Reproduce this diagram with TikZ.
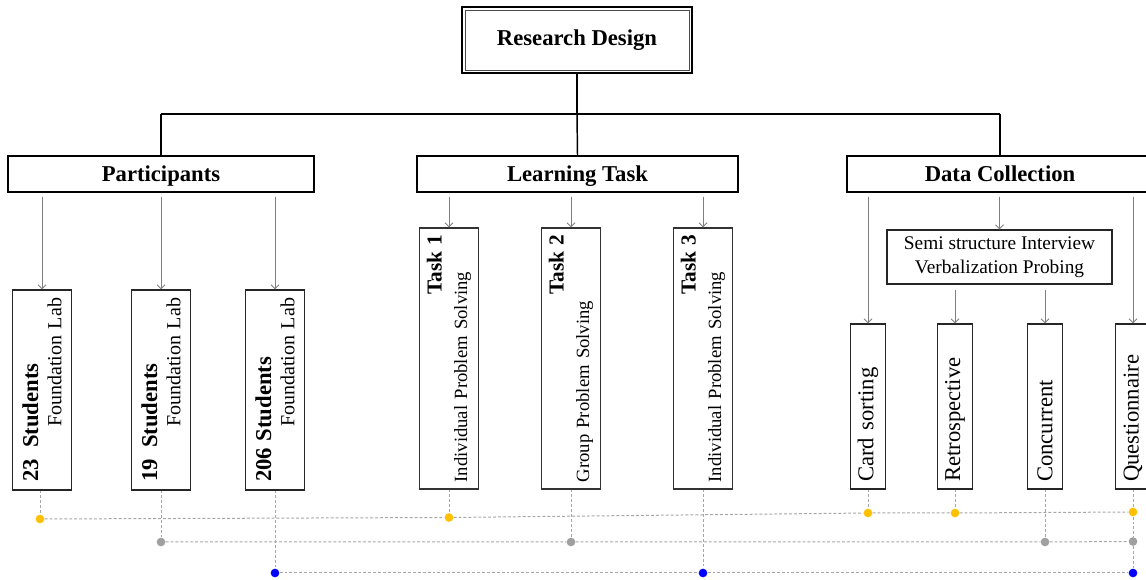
\documentclass[tikz,border=0pt]{standalone}
\usepackage{fontspec}
\setmainfont{Liberation Serif}
\usetikzlibrary{arrows.meta,calc}
\definecolor{dotyellow}{HTML}{FFC000}
\definecolor{dotgray}{HTML}{A0A0A0}
\definecolor{dotblue}{HTML}{0000FF}
\definecolor{linegray}{HTML}{A6A6A6}
\definecolor{arrgray}{HTML}{7F7F7F}
\begin{document}
\begin{tikzpicture}[x=0.75pt,y=-0.75pt,
  header/.style={draw=black, line width=1.1pt, minimum width=229.5pt, minimum height=27pt, inner sep=0pt, text height=14pt, text depth=2pt, font=\fontsize{17}{20}\selectfont\bfseries},
  rdbox/.style={draw=black, line width=2.2pt, minimum width=172.5pt, minimum height=49.5pt, inner sep=0pt, text height=12.5pt, text depth=3.5pt, font=\fontsize{17}{20}\selectfont\bfseries},
  stubox/.style={draw=black!85, line width=0.8pt, rotate=90, minimum width=150pt, minimum height=44.25pt, inner xsep=6pt, inner ysep=0pt, text width=138pt, align=left, font=\fontsize{15}{17.5}\selectfont},
  taskbox/.style={draw=black!80, line width=0.8pt, rotate=90, minimum width=195.75pt, minimum height=44.25pt, inner xsep=5pt, inner ysep=0pt, text width=185.75pt, align=left, font=\fontsize{14}{19}\selectfont},
  methbox/.style={draw=black!85, line width=0.8pt, rotate=90, minimum width=123.75pt, minimum height=26.25pt, inner xsep=5.25pt, inner ysep=0pt, text width=113.25pt, align=left, font=\fontsize{17}{20}\selectfont},
  semibox/.style={draw=black!85, line width=0.8pt, minimum width=168.75pt, minimum height=40.5pt, inner sep=0pt, align=center, font=\fontsize{14.5}{18}\selectfont},
  arr/.style={draw=arrgray, line width=0.75pt, -{Straight Barb[length=3pt,width=6pt]}},
  tree/.style={draw=black, line width=1.1pt},
  link/.style={draw=linegray, line width=0.75pt, dash pattern=on 2.2pt off 1.5pt},
  dot/.style={circle, inner sep=0pt, minimum size=6.5pt},
]
\useasboundingbox (0,0) rectangle (1146,580);
\clip (0,0) rectangle (1146,580);

% top node
\node[rdbox] (rd) at (577,40) {Research Design};
\draw[line width=0.6pt, black!70] ([xshift=3.3pt,yshift=-3.3pt]rd.north west) rectangle ([xshift=-3.3pt,yshift=3.3pt]rd.south east);

% headers
\node[header] (part) at (161,174) {Participants};
\node[header, minimum width=240.75pt] (lt) at (577.5,174) {Learning Task};
\node[header] (dc) at (1000,174) {Data Collection};

% tree
\coordinate (hub) at (577,114);
\draw[tree] (rd.south) -- (hub);
\draw[tree] (part.north |- hub) -- (dc.north |- hub);
\draw[tree] (part.north |- hub) -- (part.north);
\draw[tree] (hub) -- (lt.north);
\draw[tree] (dc.north |- hub) -- (dc.north);

% participants
\node[stubox] (s1) at (42,390) {{\fontsize{17}{17.5}\selectfont\bfseries 23\hspace{0.5em}Students}\\\hspace*{\fill}Foundation Lab};
\node[stubox] (s2) at (161,390) {{\fontsize{17}{17.5}\selectfont\bfseries 19\hspace{0.5em}Students}\\\hspace*{\fill}Foundation Lab};
\node[stubox] (s3) at (275,390) {{\fontsize{17}{17.5}\selectfont\bfseries 206 Students}\\\hspace*{\fill}Foundation Lab};

% tasks
\node[taskbox] (t1) at (449,358.5) {\hspace*{\fill}{\fontsize{16}{19}\selectfont\bfseries Task 1}\\Individual Problem Solving};
\node[taskbox] (t2) at (571,358.5) {\hspace*{\fill}{\fontsize{16}{19}\selectfont\bfseries Task 2}\\Group Problem Solving};
\node[taskbox] (t3) at (703,358.5) {\hspace*{\fill}{\fontsize{16}{19}\selectfont\bfseries Task 3}\\Individual Problem Solving};

% data collection
\node[semibox] (semi) at (999.5,257) {Semi structure Interview\\Verbalization Probing};
\node[methbox] (card) at (868,406.5) {Card sorting};
\node[methbox] (retro) at (955,406.5) {Retrospective};
\node[methbox] (conc) at (1045,406.5) {Concurrent};
\node[methbox] (quest) at (1133,406.5) {Questionnaire};

% arrows
\draw[arr] ($(s1.east |- part.south)+(0,4)$) -- (s1.east);
\draw[arr] ($(s2.east |- part.south)+(0,4)$) -- (s2.east);
\draw[arr] ($(s3.east |- part.south)+(0,4)$) -- (s3.east);
\draw[arr] ($(t1.east |- lt.south)+(0,4)$) -- (t1.east);
\draw[arr] ($(t2.east |- lt.south)+(0,4)$) -- (t2.east);
\draw[arr] ($(t3.east |- lt.south)+(0,4)$) -- (t3.east);
\draw[arr] ($(card.east |- dc.south)+(0,4)$) -- (card.east);
\draw[arr] ($(semi.north |- dc.south)+(0,4)$) -- (semi.north);
\draw[arr] ($(quest.east |- dc.south)+(0,4)$) -- (quest.east);
\draw[arr] ($(retro.east |- semi.south)+(0,5)$) -- (retro.east);
\draw[arr] ($(conc.east |- semi.south)+(0,5)$) -- (conc.east);

% dots
\node[dot, fill=dotyellow] (y1) at (40,519) {};
\node[dot, fill=dotyellow] (y2) at (449,517.5) {};
\node[dot, fill=dotyellow] (y3) at (868,513) {};
\node[dot, fill=dotyellow] (y4) at (955,513) {};
\node[dot, fill=dotyellow] (y5) at (1133,512) {};
\node[dot, fill=dotgray] (g1) at (161,542) {};
\node[dot, fill=dotgray] (g2) at (571,542) {};
\node[dot, fill=dotgray] (g3) at (1045,542) {};
\node[dot, fill=dotgray] (g4) at (1133,541.5) {};
\node[dot, fill=dotblue] (b1) at (275,573) {};
\node[dot, fill=dotblue] (b2) at (703,573) {};
\node[dot, fill=dotblue] (b3) at (1133,573) {};

% dashed links
\draw[link] (s1.west -| y1) -- (y1);
\draw[link] (t1.west) -- (y2);
\draw[link] (card.west) -- (y3);
\draw[link] (retro.west) -- (y4);
\draw[link] (quest.west) -- (y5) -- (g4) -- (b3);
\draw[link] (s2.west) -- (g1);
\draw[link] (t2.west) -- (g2);
\draw[link] (conc.west) -- (g3);
\draw[link] (s3.west) -- (b1);
\draw[link] (t3.west) -- (b2);
\draw[link] (y1) -- (y2) -- (y3) -- (y4) -- (y5);
\draw[link] (g1) -- (g2) -- (g3) -- (g4);
\draw[link] (b1) -- (b2) -- (b3);
\end{tikzpicture}
\end{document}
